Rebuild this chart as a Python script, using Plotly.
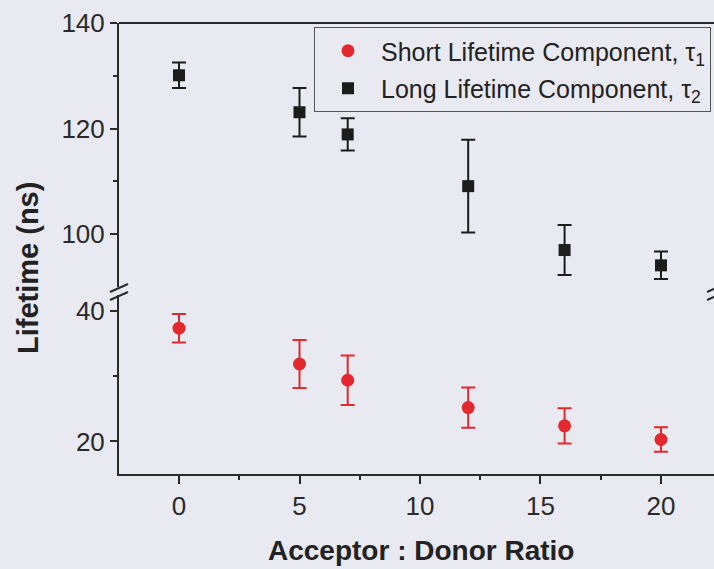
import plotly.graph_objects as go

# Acceptor : donor ratio and fitted lifetimes (ns)
ratio = [0, 5, 7, 12, 16, 20]
short_tau = [37.4, 31.9, 29.4, 25.2, 22.4, 20.3]
short_err = [2.2, 3.7, 3.8, 3.1, 2.7, 1.9]
long_tau = [130.1, 123.1, 118.9, 109.1, 97.0, 94.1]
long_err = [2.4, 4.6, 3.05, 8.8, 4.75, 2.6]

RED = "#e3282e"
BLACK = "#1c1c1c"
AXIS = "#2a2a2a"
BG = "#e9e9f1"
FONT = "Arial, Liberation Sans, sans-serif"

W, H = 714, 569
L, R, T, B = 119, 0, 23, 95
plot_h = H - T - B
upper_bottom_px = 287
lower_top_px = 295

fig = go.Figure()
fig.add_trace(
    go.Scatter(
        x=ratio,
        y=short_tau,
        error_y=dict(type="data", array=short_err, color=RED, thickness=2, width=7),
        mode="markers",
        marker=dict(symbol="circle", size=13, color=RED),
        name="Short Lifetime Component, τ<sub>1</sub>",
        legendgroup="short",
        yaxis="y",
    )
)
fig.add_trace(
    go.Scatter(
        x=ratio,
        y=long_tau,
        error_y=dict(type="data", array=long_err, color=BLACK, thickness=2, width=7),
        mode="markers",
        marker=dict(symbol="square", size=12, color=BLACK),
        name="Long Lifetime Component, τ<sub>2</sub>",
        legendgroup="long",
        yaxis="y2",
    )
)

tick_font = dict(family=FONT, size=26, color="#2a2a2a")
common_y = dict(
    showline=True,
    linecolor=AXIS,
    linewidth=2,
    ticks="outside",
    ticklen=7,
    tickwidth=1.5,
    tickcolor=AXIS,
    showgrid=False,
    zeroline=False,
    tickfont=tick_font,
    anchor="x",
    dtick=20,
)

fig.update_layout(
    width=W,
    height=H,
    margin=dict(l=L, r=R, t=T, b=B),
    paper_bgcolor=BG,
    plot_bgcolor=BG,
    showlegend=True,
    xaxis=dict(
        range=[-2.49, 22.2],
        showline=True,
        linecolor=AXIS,
        linewidth=2,
        ticks="outside",
        ticklen=8,
        tickwidth=1.5,
        tickcolor=AXIS,
        dtick=5,
        tick0=0,
        minor=dict(ticks="outside", ticklen=4, dtick=2.5, tick0=0, tickcolor=AXIS),
        showgrid=False,
        zeroline=False,
        tickfont=tick_font,
        anchor="y",
    ),
    yaxis=dict(
        domain=[0, (H - B - lower_top_px) / plot_h],
        range=[15, 42.5],
        minor=dict(ticks="outside", ticklen=4, tickmode="array", tickvals=[30], tickcolor=AXIS),
        **common_y,
    ),
    yaxis2=dict(
        domain=[(H - B - upper_bottom_px) / plot_h, 1],
        range=[90, 140],
        minor=dict(ticks="outside", ticklen=4, tickmode="array", tickvals=[110, 130], tickcolor=AXIS),
        **common_y,
    ),
    legend=dict(
        x=(314 - L) / (W - L - R),
        y=1 - (27 - T) / plot_h,
        xanchor="left",
        yanchor="top",
        bgcolor="rgba(0,0,0,0)",
        bordercolor="#555555",
        borderwidth=1,
        font=dict(family=FONT, size=25, color="#222222"),
        itemwidth=56,
        tracegroupgap=2,
    ),
)

# top frame line
fig.add_shape(type="line", xref="paper", yref="paper", x0=0, x1=1, y0=1, y1=1,
              line=dict(color=AXIS, width=2))

# axis break marks (left and right)
def px_to_paper(xp, yp):
    return (xp - L) / (W - L - R), (H - B - yp) / plot_h

for xs in (L, L + 597):
    for yc in (288, 296):
        x0, y0 = px_to_paper(xs - 9, yc + 4)
        x1, y1 = px_to_paper(xs + 9, yc - 4)
        fig.add_shape(type="line", xref="paper", yref="paper", x0=x0, y0=y0, x1=x1, y1=y1,
                      line=dict(color=AXIS, width=2))

tx, ty = px_to_paper(28, 268)
fig.add_annotation(
    text="<b>Lifetime (ns)</b>", xref="paper", yref="paper", x=tx, y=ty,
    textangle=-90, showarrow=False, xanchor="center", yanchor="middle",
    font=dict(family=FONT, size=29, color="#222222"),
)
ax_, ay_ = px_to_paper(421, 550)
fig.add_annotation(
    text="<b>Acceptor : Donor Ratio</b>", xref="paper", yref="paper", x=ax_, y=ay_,
    showarrow=False, xanchor="center", yanchor="middle",
    font=dict(family=FONT, size=28, color="#222222"),
)

fig.write_html(
    "out.html",
    config={"displayModeBar": False},
    post_script="document.body.style.margin='0';",
)
